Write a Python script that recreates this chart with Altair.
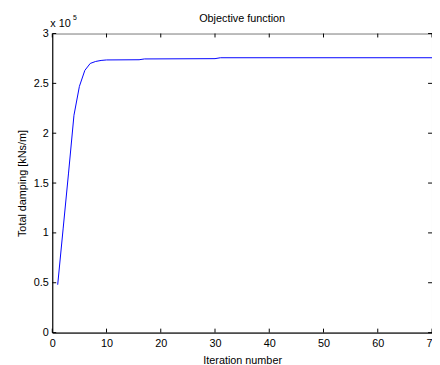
import altair as alt
import pandas as pd

# Data (total damping in units of 1e5 kNs/m)
iterations = [1, 2, 3, 4, 5, 6, 7, 8, 9, 10, 16, 17, 30, 31, 70]
damping = [0.48, 1.04, 1.60, 2.18, 2.47, 2.63, 2.70, 2.72, 2.73, 2.735, 2.737, 2.745, 2.748, 2.757, 2.757]
x_ticks = [0, 10, 20, 30, 40, 50, 60, 70]
y_ticks = [0, 0.5, 1, 1.5, 2, 2.5, 3]

W, H = 386, 304
TICK = 4

df = pd.DataFrame({"it": iterations, "d": damping})
dfx = pd.DataFrame({"v": x_ticks})
dfy = pd.DataFrame({"v": y_ticks})

FONT = "Liberation Sans"
xs = alt.Scale(domain=[0, 70], nice=False, zero=False)
ys = alt.Scale(domain=[0, 3], nice=False)

main = alt.Chart(df).mark_line(color="#0000ff", strokeWidth=1).encode(
    x=alt.X("it:Q", scale=xs, axis=alt.Axis(
        orient="bottom", values=x_ticks, ticks=False, domain=True, domainColor="#000",
        grid=False, labelPadding=5, labelFlush=False, labelOverlap=False,
        title="Iteration number", titlePadding=6, format="d")),
    y=alt.Y("d:Q", scale=ys, axis=alt.Axis(
        orient="left", values=y_ticks, ticks=False, domain=True, domainColor="#000",
        grid=False, labelPadding=4, labelFlush=False, labelOverlap=False,
        title="Total damping [kNs/m]", titlePadding=6, format="~g")),
)

tick_style = dict(color="#000", strokeWidth=1)
xt_bottom = alt.Chart(dfx).mark_rule(**tick_style).encode(
    x=alt.X("v:Q", scale=xs), y=alt.value(H - TICK), y2=alt.value(H))
xt_top = alt.Chart(dfx).mark_rule(**tick_style).encode(
    x=alt.X("v:Q", scale=xs), y=alt.value(0), y2=alt.value(TICK))
yt_left = alt.Chart(dfy).mark_rule(**tick_style).encode(
    y=alt.Y("v:Q", scale=ys), x=alt.value(0), x2=alt.value(TICK))
yt_right = alt.Chart(dfy).mark_rule(**tick_style).encode(
    y=alt.Y("v:Q", scale=ys), x=alt.value(W - TICK), x2=alt.value(W))

exp_base = alt.Chart(pd.DataFrame({"t": ["x 10"]})).mark_text(
    align="left", baseline="alphabetic", font=FONT, fontSize=11, color="#000"
).encode(text="t:N", x=alt.value(-2), y=alt.value(-7))

exp_sup = alt.Chart(pd.DataFrame({"t": ["5"]})).mark_text(
    align="left", baseline="alphabetic", font=FONT, fontSize=7, color="#000"
).encode(text="t:N", x=alt.value(21), y=alt.value(-14))

title = alt.Chart(pd.DataFrame({"t": ["Objective function"]})).mark_text(
    align="center", baseline="alphabetic", font=FONT, fontSize=11, color="#000"
).encode(text="t:N", x=alt.value(W / 2), y=alt.value(-12))

chart = alt.layer(
    main, xt_bottom, xt_top, yt_left, yt_right, exp_base, exp_sup, title
).properties(
    width=W, height=H,
    background="white",
    autosize=alt.AutoSizeParams(type="none"),
    padding={"left": 45, "top": 23, "right": 0, "bottom": 30},
).configure_view(
    stroke="#777", strokeWidth=1
).configure_axis(
    labelFont=FONT, labelFontSize=11, labelColor="#000",
    titleFont=FONT, titleFontSize=11, titleFontWeight="normal", titleColor="#000",
    grid=False,
)

chart.save("out.html", embed_options={"renderer": "svg", "actions": False})
